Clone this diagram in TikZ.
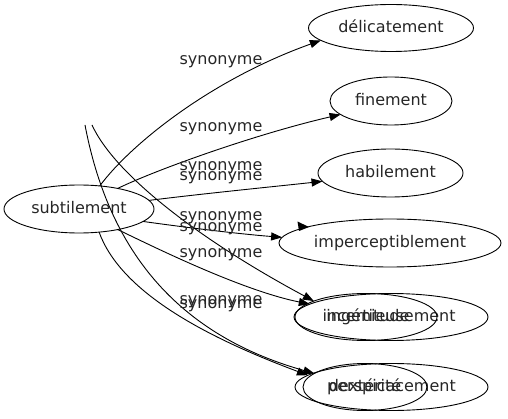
\documentclass[tikz,border=0pt]{standalone}
\usepackage{fontspec}
\setmainfont{DejaVu Sans}
\usetikzlibrary{shapes.geometric,arrows.meta}
\begin{document}
\begin{tikzpicture}[x=1pt,y=-1pt,
  every node/.style={font=\fontsize{16}{19}\selectfont,text height=12pt,text depth=3.5pt,text=black!85},
  ell/.style={draw=black,ellipse,inner sep=0pt,outer sep=0pt,line width=0.9pt},
  lbl/.style={inner sep=0pt},
  edge/.style={draw,line width=0.9pt,-{Triangle[length=11pt,width=8pt]}},
  free/.style={draw,line width=0.9pt,-{Triangle[length=11pt,width=8pt]}}]
\useasboundingbox (0,0) rectangle (508,419);
% nodes
\node[ell,minimum width=150pt,minimum height=48pt] (sub) at (79,209) {subtilement};
\node[ell,minimum width=165pt,minimum height=47pt] (deli) at (391,28) {délicatement};
\node[ell,minimum width=122pt,minimum height=48pt] (fine) at (391,101) {finement};
\node[ell,minimum width=145pt,minimum height=48pt] (habi) at (390.5,173) {habilement};
\node[ell,minimum width=222pt,minimum height=48pt] (imper) at (390,243) {imperceptiblement};
\node[ell,minimum width=194pt,minimum height=47pt] (ingL) at (391,317) {ingénieusement};
\node[ell,minimum width=142pt,minimum height=47pt] (incert) at (366,317) {incertitude};
\node[ell,minimum width=193pt,minimum height=47pt] (persp) at (391.5,387) {perspicacement};
\node[ell,minimum width=124pt,minimum height=47pt] (dext) at (365,387) {dextérité};
% free ends
\coordinate (f1) at (85,125);
\coordinate (f2) at (92,125);
% edges
\path[edge] (sub.48) .. controls (130,145) and (210,80) .. (deli.190);
\path[edge] (sub.28) .. controls (160,168) and (260,133) .. (fine.195);
\path[edge] (sub.7) .. controls (200,194) and (270,187) .. (habi.187);
\path[edge] (sub.349) .. controls (190,228) and (240,234) .. (imper.177);
\path[edge] (sub.332) .. controls (150,245) and (240,290) .. (ingL.171);
\path[edge] (sub.311) .. controls (120,290) and (200,335) .. (persp.172);
\path[free] (f2) .. controls (115,175) and (200,240) .. (incert.163);
\path[free] (f1) .. controls (105,230) and (160,330) .. (dext.165);
% lone arrowhead
\fill (309,227) -- (297.5,221.5) -- (299,231) -- cycle;
% labels
\node[lbl] (l1) at (221,60) {synonyme};
\node[lbl] (l2) at (221,127) {synonyme};
\node[lbl] (l3) at (221,166) {synonyme};
\node[lbl] (l4) at (221,176) {synonyme};
\node[lbl] (l5) at (221,216) {synonyme};
\node[lbl] (l6) at (221,227) {synonyme};
\node[lbl] (l7) at (221,253) {synonyme};
\node[lbl] (l8) at (221,300) {synonyme};
\node[lbl] (l9) at (221,304) {synonyme};
\end{tikzpicture}
\end{document}
